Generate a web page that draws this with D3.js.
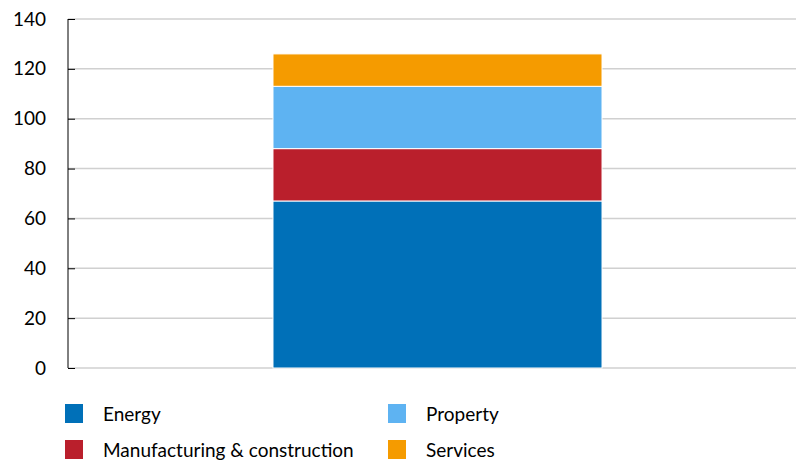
<!DOCTYPE html>
<html>
<head>
<meta charset="utf-8">
<script src="https://cdn.jsdelivr.net/npm/d3@7"></script>
<style>
  body { margin: 0; background: #fff; }
  svg text { font-family: Lato, 'Open Sans', sans-serif; fill: #000; }
</style>
</head>
<body>
<div id="chart"></div>
<script>
const categories = ['Total']
const seriesNames = ['Energy', 'Manufacturing & construction', 'Property', 'Services']
const seriesValues = [67, 21, 25, 13]
const seriesColors = ['#0070b8', '#ba1f2c', '#5eb3f2', '#f59b00']
const yTicks = [0, 20, 40, 60, 80, 100, 120, 140]

const width = 796
const height = 461
const plotLeft = 68
const plotTop = 19
const plotBottom = 368

const svg = d3.select('#chart')
  .append('svg')
  .attr('width', width)
  .attr('height', height)

const y = d3.scaleLinear().domain([0, 140]).range([plotBottom, plotTop])
const x = d3.scaleBand()
  .domain(categories)
  .range([plotLeft, 807])
  .paddingInner(0)
  .paddingOuter(0.623)

// gridlines
svg.append('g')
  .selectAll('line')
  .data(yTicks)
  .enter()
  .append('line')
  .attr('x1', plotLeft)
  .attr('x2', width)
  .attr('y1', (d) => y(d))
  .attr('y2', (d) => y(d))
  .style('stroke', '#d0d0d0')
  .style('stroke-width', 1.5)

// stacked bar
const row = { cat: categories[0] }
seriesNames.forEach((s, i) => { row[s] = seriesValues[i] })
const stacked = d3.stack().keys(seriesNames)([row])

svg.append('g')
  .selectAll('rect')
  .data(stacked)
  .enter()
  .append('rect')
  .attr('x', x(categories[0]))
  .attr('width', x.bandwidth())
  .attr('y', (d) => y(d[0][1]))
  .attr('height', (d) => y(d[0][0]) - y(d[0][1]))
  .style('fill', (d, i) => seriesColors[i])
  .style('stroke', '#fff')
  .style('stroke-width', 1)

// y axis
const yAxis = d3.axisLeft(y)
  .tickValues(yTicks)
  .tickSize(-7)
  .tickPadding(22)

svg.append('g')
  .attr('transform', `translate(${plotLeft},0)`)
  .call(yAxis)
  .call((g) => g.select('.domain').attr('d', `M0,${plotTop}V${plotBottom}`).style('stroke', '#000'))
  .call((g) => g.selectAll('.tick line').style('stroke', '#000'))
  .call((g) => g.selectAll('.tick text').style('font-size', '19px').style('font-family', 'Lato, sans-serif'))

// legend
const legendPos = [
  { x: 65, y: 404 },
  { x: 65, y: 440 },
  { x: 388, y: 404 },
  { x: 388, y: 440 }
]

const legend = svg.append('g')
  .selectAll('g')
  .data(seriesNames)
  .enter()
  .append('g')
  .attr('transform', (d, i) => `translate(${legendPos[i].x},${legendPos[i].y})`)

legend.append('rect')
  .attr('width', 18)
  .attr('height', 19)
  .style('fill', (d, i) => seriesColors[i])

legend.append('text')
  .attr('x', 38)
  .attr('y', 10)
  .attr('dy', '0.35em')
  .style('font-size', '19px')
  .text((d) => d)
</script>
</body>
</html>
